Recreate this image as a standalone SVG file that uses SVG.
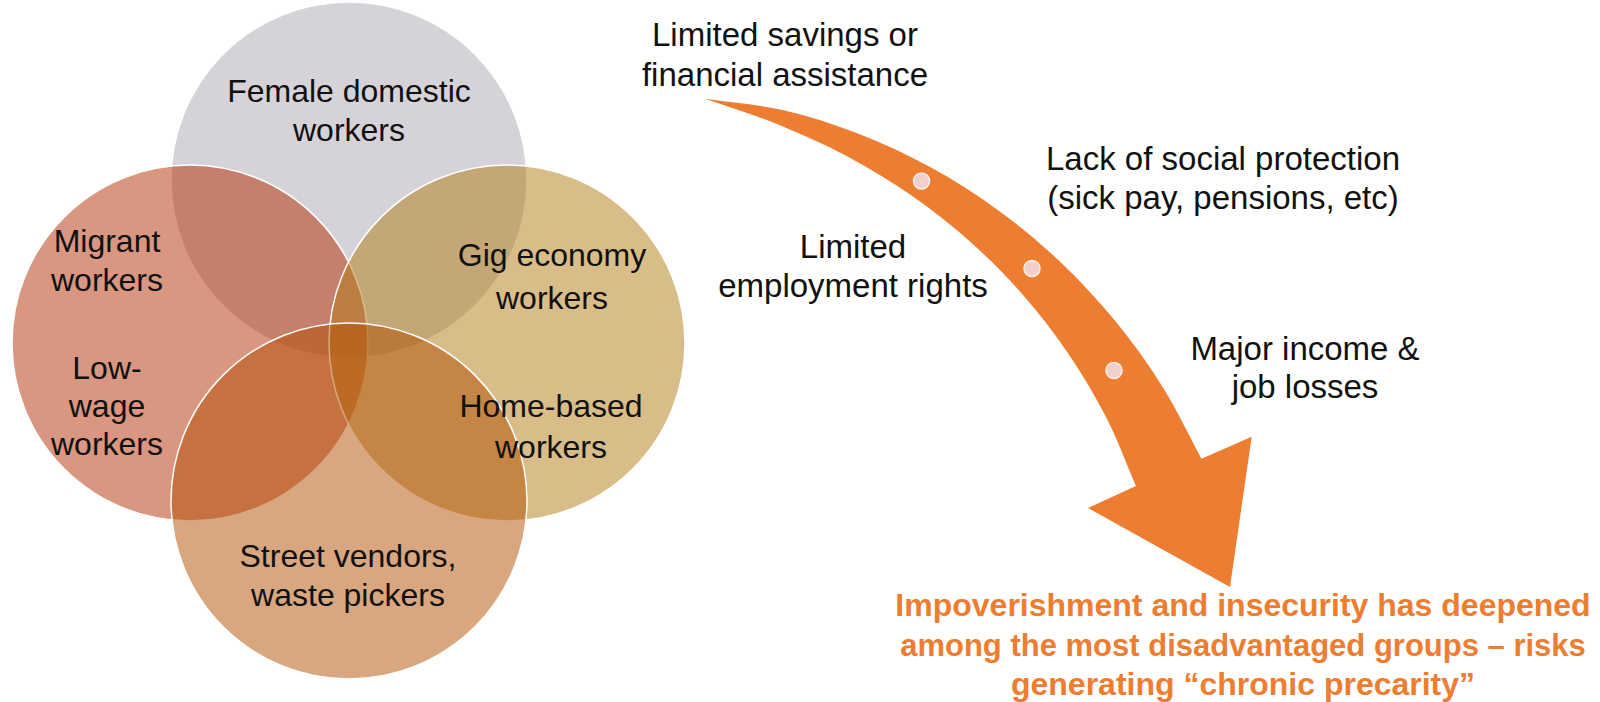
<svg xmlns="http://www.w3.org/2000/svg" width="1600" height="702" viewBox="0 0 1600 702">
  <style>
    .venn { fill-opacity: 0.5; stroke: #ffffff; stroke-width: 1.5; }
    .lbl { font-family: "Liberation Sans", Arial, sans-serif; font-size: 32px; fill: #111111; text-anchor: middle; }
    .note { font-family: "Liberation Sans", Arial, sans-serif; font-size: 33px; fill: #111111; text-anchor: middle; }
    .result { font-family: "Liberation Sans", Arial, sans-serif; font-size: 32px; font-weight: bold; fill: #ed7d31; text-anchor: middle; }
    .flow { fill: #ed7d31; }
    .dot { fill: #f2cfcb; stroke: #fdf1ef; stroke-width: 1.5; }
  </style>

  <rect width="1600" height="702" fill="#ffffff"/>

  <!-- Venn circles: translucent fills so the overlaps darken -->
  <g id="node-female-domestic">
    <circle class="venn" cx="349" cy="180" r="178" fill="#aba7b1"/>
  </g>
  <g id="node-migrant-lowwage">
    <circle class="venn" cx="190" cy="343" r="178" fill="#b32d01"/>
  </g>
  <g id="node-gig-homebased">
    <circle class="venn" cx="507" cy="343" r="178" fill="#b17b13"/>
  </g>
  <g id="node-street-vendors">
    <circle class="venn" cx="349" cy="501" r="178" fill="#b14d00"/>
  </g>

  <!-- Venn labels, kept above all fills -->
  <g id="label-female-domestic">
    <text class="lbl" x="349" y="102">Female domestic</text>
    <text class="lbl" x="349" y="141">workers</text>
  </g>
  <g id="label-migrant">
    <text class="lbl" x="107" y="252">Migrant</text>
    <text class="lbl" x="107" y="291">workers</text>
  </g>
  <g id="label-low-wage">
    <text class="lbl" x="107" y="379">Low-</text>
    <text class="lbl" x="107" y="417">wage</text>
    <text class="lbl" x="107" y="455">workers</text>
  </g>
  <g id="label-gig">
    <text class="lbl" x="552" y="266">Gig economy</text>
    <text class="lbl" x="552" y="309">workers</text>
  </g>
  <g id="label-home-based">
    <text class="lbl" x="551" y="417">Home-based</text>
    <text class="lbl" x="551" y="458">workers</text>
  </g>
  <g id="label-street-vendors">
    <text class="lbl" x="348" y="567">Street vendors,</text>
    <text class="lbl" x="348" y="606">waste pickers</text>
  </g>

  <!-- Curved downward arrow (tapering band along an arc) with three milestone dots -->
  <g id="connectors">
    <path class="flow" d="M705,98.8
      C730.8,102.6 757,104.3 782.5,110.1
      C808,115.9 833.3,124.1 857.9,133.6
      C882.5,143.1 906.8,154.4 930.1,167.1
      C953.4,179.8 976.1,194.2 997.7,209.9
      C1019.3,225.6 1040.3,243 1059.8,261.4
      C1079.3,279.9 1097.8,299.7 1114.9,320.6
      C1132,341.5 1148.1,363.8 1162.5,386.8
      C1176.9,409.8 1188.5,434.8 1201.5,458.8
      L1251.7,436.7 L1230,587 L1088,508 L1135.9,485.9
      C1126.2,463.5 1117.9,440.4 1106.8,418.6
      C1095.7,396.8 1083,375.3 1069.2,354.9
      C1055.4,334.5 1040.2,314.7 1023.9,296
      C1007.6,277.3 989.9,259.4 971.3,242.7
      C952.7,226.1 932.9,210.5 912.3,196.1
      C891.7,181.7 869.9,168.4 847.5,156.4
      C825.1,144.5 801.9,134 778.1,124.4
      C754.4,114.8 729.4,107.3 705,98.8 Z"/>
    <circle class="dot" cx="921.5" cy="181" r="8"/>
    <circle class="dot" cx="1032" cy="268.5" r="8"/>
    <circle class="dot" cx="1114" cy="370.5" r="8"/>
  </g>

  <!-- Factors along the arrow -->
  <g id="node-savings">
    <text class="note" x="785" y="46">Limited savings or</text>
    <text class="note" x="785" y="86">financial assistance</text>
  </g>
  <g id="node-social-protection">
    <text class="note" x="1223" y="170">Lack of social protection</text>
    <text class="note" x="1223" y="209">(sick pay, pensions, etc)</text>
  </g>
  <g id="node-employment-rights">
    <text class="note" x="853" y="258">Limited</text>
    <text class="note" x="853" y="297">employment rights</text>
  </g>
  <g id="node-income-losses">
    <text class="note" x="1305" y="360">Major income &amp;</text>
    <text class="note" x="1305" y="398">job losses</text>
  </g>

  <!-- Outcome statement -->
  <g id="node-outcome">
    <text class="result" x="1243" y="616">Impoverishment and insecurity has deepened</text>
    <text class="result" x="1243" y="656" style="font-size:31px">among the most disadvantaged groups – risks</text>
    <text class="result" x="1243" y="695">generating “chronic precarity”</text>
  </g>
</svg>
